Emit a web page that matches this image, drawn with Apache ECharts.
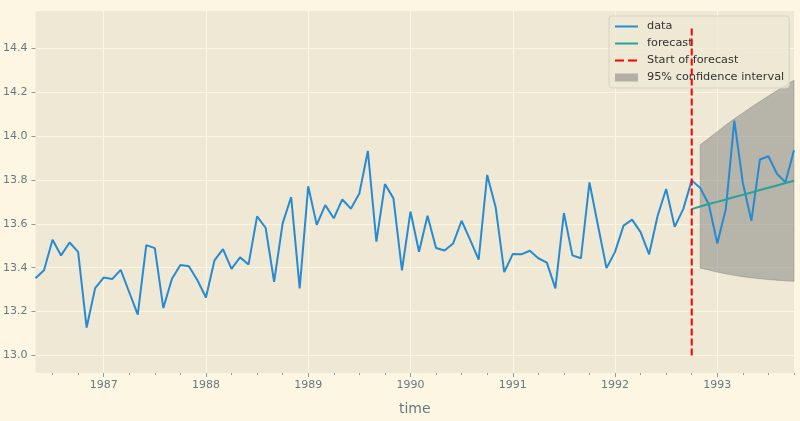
<!DOCTYPE html>
<html>
<head>
<meta charset="utf-8">
<title>forecast</title>
<script src="https://cdn.jsdelivr.net/npm/echarts@6/dist/echarts.min.js"></script>
<style>
	html, body { margin: 0; padding: 0; background: #fdf6e3; }
	#main { width: 800px; height: 421px; }
</style>
</head>
<body>
<div id="main"></div>
<script>
// monthly observations, first one is 1986-05
var dataStart = [1986, 5];
var dataValues = [
	13.352, 13.388, 13.527, 13.456, 13.515, 13.472, 13.127, 13.307,
	13.355, 13.348, 13.390, 13.288, 13.186, 13.503, 13.489, 13.216, 13.348, 13.412, 13.407, 13.343,
	13.264, 13.433, 13.485, 13.395, 13.447, 13.415, 13.634, 13.582, 13.336, 13.602, 13.722, 13.306,
	13.771, 13.595, 13.685, 13.625, 13.711, 13.669, 13.738, 13.932, 13.519, 13.781, 13.716, 13.388,
	13.656, 13.473, 13.637, 13.490, 13.478, 13.510, 13.614, 13.527, 13.437, 13.823, 13.674, 13.380,
	13.462, 13.461, 13.477, 13.443, 13.423, 13.306, 13.649, 13.456, 13.443, 13.789, 13.592, 13.398,
	13.472, 13.592, 13.619, 13.562, 13.461, 13.637, 13.759, 13.586, 13.667, 13.798, 13.763, 13.689,
	13.510, 13.667, 14.070, 13.786, 13.614, 13.893, 13.908, 13.828, 13.789, 13.935
];
// forecast from 1992-10
var forecastStart = [1992, 10];
var forecastValues = [13.667, 13.679, 13.690, 13.700, 13.711, 13.722, 13.732, 13.743, 13.754, 13.764, 13.775, 13.786, 13.796];
// confidence interval from 1992-11
var ciStart = [1992, 11];
var ciLower = [13.398, 13.390, 13.380, 13.372, 13.365, 13.359, 13.354, 13.350, 13.346, 13.343, 13.340, 13.338];
var ciUpper = [13.960, 13.990, 14.020, 14.050, 14.079, 14.105, 14.132, 14.158, 14.182, 14.207, 14.232, 14.254];
// vertical marker
var startLineRange = [13.0, 14.49];

var xRange = [1986 + 4 / 12, 1993 + 9 / 12];
var yRange = [12.92, 14.57];
var yearTicks = [1987, 1988, 1989, 1990, 1991, 1992, 1993];
var yTicks = [13.0, 13.2, 13.4, 13.6, 13.8, 14.0, 14.2, 14.4];

var textColor = '#657b83';
var tickColor = '#8a9a9e';
var font = 'DejaVu Sans';

function monthX(start, i) {
	return start[0] + (start[1] - 1 + i) / 12;
}
function toPairs(start, values) {
	return values.map(function(v, i) { return [monthX(start, i), v]; });
}

var quarterTicks = [];
for (var y = 1986; y <= 1993; y++) {
	[0.25, 0.5, 0.75].forEach(function(q) {
		if (y + q >= xRange[0] && y + q <= xRange[1]) quarterTicks.push(y + q);
	});
}

var startX = monthX(forecastStart, 0);
var ciData = ciLower.map(function(lo, i) { return [monthX(ciStart, i), lo, ciUpper[i]]; });

// whole band as one polygon, drawn on the first item
function renderBand(params, api) {
	if (params.dataIndex !== 0) return null;
	var top = [], bottom = [];
	ciData.forEach(function(d) {
		top.push(api.coord([d[0], d[2]]));
		bottom.unshift(api.coord([d[0], d[1]]));
	});
	return {
		type: 'polygon',
		shape: { points: top.concat(bottom) },
		style: { fill: 'rgba(128,128,128,0.5)', stroke: 'rgba(120,118,110,0.5)', lineWidth: 0.8 }
	};
}

var myChart = echarts.init(document.getElementById('main'));

//legend lines without the circle marker
var noMarker = { opacity: 0 };

var option = {
	backgroundColor: '#fdf6e3',
	animation: false,
	textStyle: { fontFamily: font },
	grid: {
		left: 35, right: 6, top: 11, bottom: 41,
		show: true, backgroundColor: '#eee8d5', borderWidth: 0
	},
	legend: {
		orient: 'vertical',
		left: 609, top: 16,
		padding: [5, 5, 5, 5],
		itemWidth: 23, itemHeight: 8, itemGap: 6,
		backgroundColor: 'rgba(238,232,213,0.8)',
		borderColor: '#d6d2c4', borderWidth: 1, borderRadius: 3,
		textStyle: { color: '#333', fontSize: 11.3, fontFamily: font, padding: [0, 0, 0, 4] },
		data: [
			{ name: 'data', itemStyle: noMarker },
			{ name: 'forecast', itemStyle: noMarker },
			{ name: 'Start of forecast', itemStyle: noMarker, lineStyle: { type: [9, 4] } },
			{ name: '95% confidence interval', icon: 'rect' }
		]
	},
	xAxis: [{
		type: 'value',
		min: xRange[0], max: xRange[1],
		name: 'time', nameLocation: 'middle', nameGap: 29,
		nameTextStyle: { color: textColor, fontSize: 14, fontFamily: font },
		axisLine: { show: false },
		axisTick: { show: true, customValues: yearTicks, length: 4, lineStyle: { color: tickColor } },
		axisLabel: {
			customValues: yearTicks, color: textColor, fontSize: 11, margin: 7,
			formatter: function(v) { return String(Math.round(v)); }
		},
		splitLine: { show: true, lineStyle: { color: '#fdf6e3', width: 1.2 } }
	}, {
		type: 'value',
		min: xRange[0], max: xRange[1],
		position: 'bottom',
		axisLine: { show: false },
		axisTick: { show: true, customValues: quarterTicks, length: 2, lineStyle: { color: tickColor } },
		axisLabel: { show: false },
		splitLine: { show: false }
	}],
	yAxis: {
		type: 'value',
		min: yRange[0], max: yRange[1],
		axisLine: { show: false },
		axisTick: { show: true, customValues: yTicks, length: 4, lineStyle: { color: tickColor } },
		axisLabel: {
			customValues: yTicks, color: textColor, fontSize: 11, margin: 8,
			formatter: function(v) { return v.toFixed(1); }
		},
		splitLine: { show: true, lineStyle: { color: '#fdf6e3', width: 1.2 } }
	},
	series: [{
		name: '95% confidence interval',
		type: 'custom',
		renderItem: renderBand,
		itemStyle: { color: '#b3afa5' },
		encode: { x: 0, y: [1, 2] },
		data: ciData,
		silent: true,
		z: 1
	}, {
		name: 'data',
		type: 'line',
		symbol: 'none',
		color: '#268bd2',
		lineStyle: { width: 2, color: '#268bd2' },
		data: toPairs(dataStart, dataValues),
		z: 3
	}, {
		name: 'forecast',
		type: 'line',
		symbol: 'none',
		color: '#2aa198',
		lineStyle: { width: 2, color: '#2aa198' },
		data: toPairs(forecastStart, forecastValues),
		z: 4
	}, {
		name: 'Start of forecast',
		type: 'line',
		symbol: 'none',
		color: '#ff0000',
		lineStyle: { width: 2, color: '#ff0000', type: [7, 3] },
		data: startLineRange.map(function(v) { return [startX, v]; }),
		z: 5
	}]
};

myChart.setOption(option);
</script>
</body>
</html>
